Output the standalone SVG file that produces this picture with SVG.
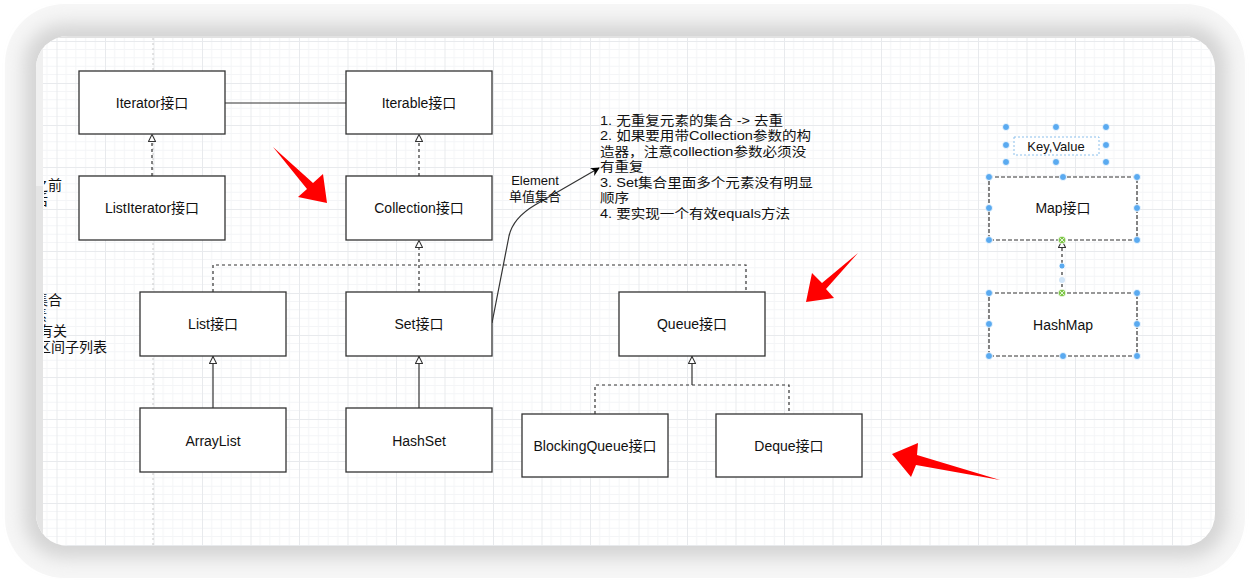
<svg xmlns="http://www.w3.org/2000/svg" width="1250" height="582" viewBox="0 0 1250 582">
<defs>
<style>
.box{fill:#fff;stroke:#333;stroke-width:1.3}
.lbl{font-family:"Liberation Sans","Noto Sans CJK SC",sans-serif;font-size:14px;fill:#111;text-anchor:middle}
.txt{font-family:"Liberation Sans","Noto Sans CJK SC",sans-serif;font-size:13px;fill:#111}
.edge{fill:none;stroke:#333;stroke-width:1.2}
.dash{stroke-dasharray:3 3}
.h{fill:#5aaaf0;stroke:#fff;stroke-width:0.8}
.g{fill:#7cc645;stroke:#fff;stroke-width:0.8}
.red{fill:#ff0000}
</style>
<marker id="tri" viewBox="0 0 10 10" refX="10" refY="5" markerWidth="8" markerHeight="8" markerUnits="userSpaceOnUse" orient="auto">
<path d="M0.6,0.6 L9.4,5 L0.6,9.4 Z" fill="#fff" stroke="#333" stroke-width="1.3"/>
</marker>
<marker id="fill" viewBox="0 0 10 10" refX="9" refY="5" markerWidth="9" markerHeight="9" markerUnits="userSpaceOnUse" orient="auto">
<path d="M0,0 L10,5 L0,10 L3,5 Z" fill="#000"/>
</marker>
<pattern id="grid" x="8" y="41" width="48.5" height="42" patternUnits="userSpaceOnUse">
<path d="M9.7,0V42M19.4,0V42M29.1,0V42M38.8,0V42M0,8.4H48.5M0,16.8H48.5M0,25.2H48.5M0,33.6H48.5" stroke="#f4f5f7" stroke-width="1" fill="none"/>
<path d="M0.5,0V42M0,0.5H48.5" stroke="#e8eaed" stroke-width="1" fill="none"/>
</pattern>
<filter id="sh" x="-10%" y="-10%" width="120%" height="120%"><feGaussianBlur stdDeviation="9"/></filter>
<clipPath id="panel"><rect x="36" y="36" width="1179" height="510" rx="32"/></clipPath>
<clipPath id="leftcut"><rect x="44" y="36" width="200" height="510"/></clipPath>
</defs>

<!-- frame -->
<rect x="0" y="0" width="1250" height="582" fill="#fff"/>
<rect x="5" y="4" width="1240" height="574" rx="60" fill="#f6f6f6"/>
<rect x="24" y="24" width="1203" height="534" rx="40" fill="#d4d4d4" filter="url(#sh)"/>
<rect x="36" y="36" width="1179" height="510" rx="32" fill="#fff"/>
<g clip-path="url(#panel)">
<rect x="43" y="38" width="1172" height="508" fill="url(#grid)"/>
<rect x="36" y="36" width="7" height="510" fill="#f0f0f0"/>
<rect x="36" y="186" width="7" height="360" fill="#e4e4e4"/>
<line x1="36" y1="37" x2="1215" y2="37" stroke="#e2e2e2" stroke-width="2"/>
<line x1="153" y1="38" x2="153" y2="546" stroke="#c8c8c8" stroke-width="1" stroke-dasharray="2 3"/>
</g>

<!-- left clipped text -->
<g clip-path="url(#leftcut)" class="txt" style="font-size:14px" text-anchor="end">
<text x="62" y="190" text-anchor="end">之前</text>
<text x="48" y="205" text-anchor="end">后</text>
<text x="62" y="305" text-anchor="end">集合</text>
<text x="47" y="320" text-anchor="end">素</text>
<text x="67" y="336" text-anchor="end">有关</text>
<text x="107" y="352" text-anchor="end">区间子列表</text>
</g>

<!-- connectors -->
<g id="connectors">
<path class="edge" d="M225,103 H346"/>
<path class="edge dash" d="M152,176 V134" marker-end="url(#tri)"/>
<path class="edge dash" d="M419,176 V134" marker-end="url(#tri)"/>
<path class="edge dash" d="M213,292 V265 H746 V292"/>
<path class="edge dash" d="M419,292 V240" marker-end="url(#tri)"/>
<path class="edge" d="M213,408 V356" marker-end="url(#tri)"/>
<path class="edge" d="M419,408 V356" marker-end="url(#tri)"/>
<path class="edge dash" d="M595,414 V385 H789 V414"/>
<path class="edge" d="M692,385 V356" marker-end="url(#tri)"/>
<path class="edge dash" d="M1062,293 V240" stroke="#4a5664" marker-end="url(#tri)"/>
<path class="edge" d="M492,323 L509,236 Q513,218 535,205 L599,168" stroke="#000" marker-end="url(#fill)"/>
</g>

<!-- nodes -->
<g id="n-iterator"><rect class="box" x="79" y="71" width="146" height="63"/><text class="lbl" x="152" y="108">Iterator接口</text></g>
<g id="n-iterable"><rect class="box" x="346" y="71" width="146" height="63"/><text class="lbl" x="419" y="108">Iterable接口</text></g>
<g id="n-listiterator"><rect class="box" x="79" y="176" width="146" height="64"/><text class="lbl" x="152" y="213">ListIterator接口</text></g>
<g id="n-collection"><rect class="box" x="346" y="176" width="146" height="64"/><text class="lbl" x="419" y="213">Collection接口</text></g>
<g id="n-list"><rect class="box" x="140" y="292" width="146" height="64"/><text class="lbl" x="213" y="329">List接口</text></g>
<g id="n-set"><rect class="box" x="346" y="292" width="146" height="64"/><text class="lbl" x="419" y="329">Set接口</text></g>
<g id="n-queue"><rect class="box" x="619" y="292" width="146" height="64"/><text class="lbl" x="692" y="329">Queue接口</text></g>
<g id="n-arraylist"><rect class="box" x="140" y="408" width="146" height="64"/><text class="lbl" x="213" y="446">ArrayList</text></g>
<g id="n-hashset"><rect class="box" x="346" y="408" width="146" height="64"/><text class="lbl" x="419" y="446">HashSet</text></g>
<g id="n-blockingqueue"><rect class="box" x="522" y="414" width="146" height="63"/><text class="lbl" x="595" y="451">BlockingQueue接口</text></g>
<g id="n-deque"><rect class="box" x="716" y="414" width="146" height="63"/><text class="lbl" x="789" y="451">Deque接口</text></g>

<g id="n-map"><rect x="989" y="177" width="148" height="63" fill="#fff" stroke="#333" stroke-width="1.2" stroke-dasharray="4 2"/><text class="lbl" x="1063" y="213">Map接口</text></g>
<g id="n-hashmap"><rect x="989" y="293" width="148" height="63" fill="#fff" stroke="#333" stroke-width="1.2" stroke-dasharray="4 2"/><text class="lbl" x="1063" y="330">HashMap</text></g>
<g id="n-keyvalue"><rect x="1014" y="137" width="85" height="18" fill="#fff" stroke="#8cc0ec" stroke-width="1" stroke-dasharray="2 2"/><text class="lbl" x="1056" y="151" style="font-size:13px">Key,Value</text></g>

<!-- selection handles -->
<g id="handles">
<circle class="h" cx="1006" cy="127" r="3.5"/><circle class="h" cx="1056" cy="127" r="3.5"/><circle class="h" cx="1106" cy="127" r="3.5"/>
<circle class="h" cx="1006" cy="145" r="3.5"/><circle class="h" cx="1106" cy="145" r="3.5"/>
<circle class="h" cx="1006" cy="162" r="3.5"/><circle class="h" cx="1056" cy="162" r="3.5"/><circle class="h" cx="1106" cy="162" r="3.5"/>
<circle class="h" cx="989" cy="177" r="3.5"/><circle class="h" cx="1063" cy="177" r="3.5"/><circle class="h" cx="1137" cy="177" r="3.5"/>
<circle class="h" cx="989" cy="208" r="3.5"/><circle class="h" cx="1137" cy="208" r="3.5"/>
<circle class="h" cx="989" cy="240" r="3.5"/><circle class="h" cx="1137" cy="240" r="3.5"/>
<circle class="h" cx="1062" cy="266" r="3"/>
<circle cx="1062" cy="280" r="3" fill="#cfe4f7"/>
<circle class="h" cx="989" cy="293" r="3.5"/><circle class="h" cx="1137" cy="293" r="3.5"/>
<circle class="h" cx="989" cy="324" r="3.5"/><circle class="h" cx="1137" cy="324" r="3.5"/>
<circle class="h" cx="989" cy="356" r="3.5"/><circle class="h" cx="1063" cy="356" r="3.5"/><circle class="h" cx="1137" cy="356" r="3.5"/>
<circle class="g" cx="1062" cy="240" r="3.8"/><path d="M1060,238 L1064,242 M1064,238 L1060,242" stroke="#fff" stroke-width="0.8"/>
<circle class="g" cx="1062" cy="293" r="3.8"/><path d="M1060,291 L1064,295 M1064,291 L1060,295" stroke="#fff" stroke-width="0.8"/>
</g>

<!-- notes -->
<g id="label-element" class="txt" text-anchor="middle">
<text x="535" y="185" text-anchor="middle">Element</text>
<text x="535" y="201" text-anchor="middle">单值集合</text>
</g>
<g id="notes" class="txt" transform="translate(600,0) scale(1.12,1)">
<text x="0" y="125">1. 无重复元素的集合 -&gt; 去重</text>
<text x="0" y="140.5">2. 如果要用带Collection参数的构</text>
<text x="0" y="156">造器，注意collection参数必须没</text>
<text x="0" y="171.5">有重复</text>
<text x="0" y="187">3. Set集合里面多个元素没有明显</text>
<text x="0" y="202.5">顺序</text>
<text x="0" y="218">4. 要实现一个有效equals方法</text>
</g>

<!-- red arrows -->
<g id="red-arrows">
<polygon class="red" points="273,147 313,183 323,174 327,203 298,197 307,189"/>
<polygon class="red" points="858,253 822,283 812,273 806,302 834,298 826,289"/>
<polygon class="red" points="1000,480 917,455 918,443 892,454 911,477 916,465"/>
</g>
</svg>
